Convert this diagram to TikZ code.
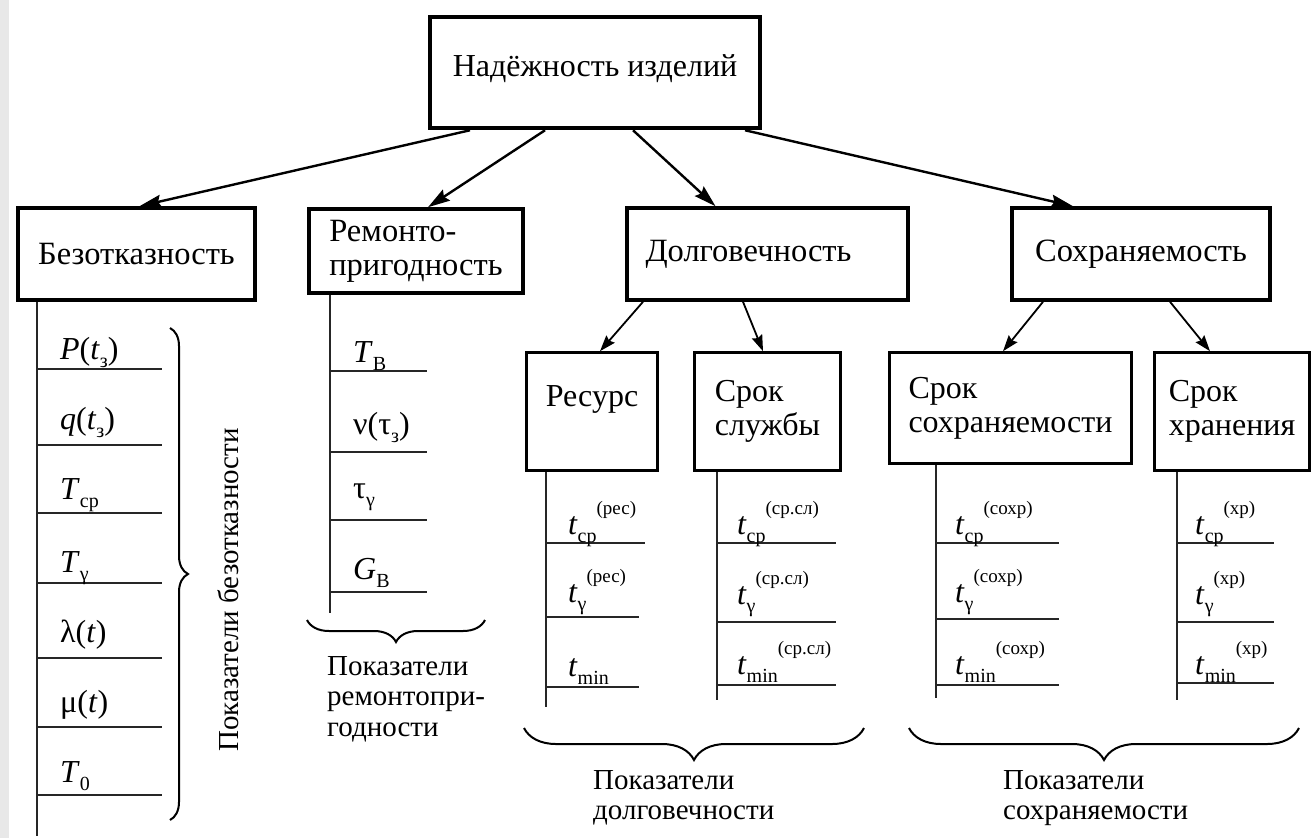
\documentclass[tikz,border=0pt]{standalone}
\usepackage{fontspec}
\setmainfont{Liberation Serif}
\usetikzlibrary{arrows.meta,decorations.pathreplacing}
\newcommand\subidx[1]{\raisebox{-0.26em}{\fontsize{20}{20}\selectfont #1}}
\newcommand\supidx[1]{\raisebox{0.6em}{\fontsize{19}{19}\selectfont #1}}
\tikzset{
  topbox/.style={draw, line width=4.5pt, minimum width=330pt, minimum height=111pt,
    inner sep=0pt, font=\fontsize{32}{35}\selectfont},
  mainbox/.style={draw, line width=3.6pt, minimum height=92pt, inner sep=0pt,
    font=\fontsize{32.5}{34}\selectfont, align=left},
  subbox/.style={draw, line width=2.6pt, inner sep=0pt, font=\fontsize{32}{34}\selectfont, align=left},
  arr/.style={-{Stealth[length=22pt,width=13pt,inset=3pt]}, line width=2.4pt},
  subarr/.style={-{Stealth[length=16pt,width=11pt,inset=2pt]}, line width=1.8pt},
  listline/.style={line width=1.8pt, black!85},
  idx/.style={anchor=base west, inner sep=0pt, font=\fontsize{32}{34}\selectfont},
  bracelab/.style={inner sep=0pt, align=left, font=\fontsize{29}{30.5}\selectfont},
  brc/.style={decorate, decoration={brace, amplitude=#1}, line width=2pt},
}

\begin{document}
\begin{tikzpicture}[x=1pt, y=-1pt]
  \useasboundingbox (0,0) rectangle (1313,838);
  \fill[white] (0,0) rectangle (1313,838);
  \fill[black!9] (0,0) rectangle (9,838);

  % top and first level
  \node[topbox, text depth=14pt] (nad) at (595,72.5) {Надёжность изделий};
  \node[mainbox, minimum width=237pt] (bez) at (136.5,254) {Безотказность};
  \node[mainbox, minimum width=214pt, minimum height=84pt] (rem) at (416,251) {Ремонто-\\пригодность};
  \node[mainbox, minimum width=281pt] (dol) at (767.5,254) {Долговечность\hspace*{38pt}};
  \node[mainbox, minimum width=258pt] (sokh) at (1141,254) {Сохраняемость};

  \draw[arr] ([xshift=-125pt]nad.south) -- ([xshift=3pt]bez.north);
  \draw[arr] ([xshift=-50pt]nad.south) -- ([xshift=12pt]rem.north);
  \draw[arr] ([xshift=38pt]nad.south) -- ([xshift=-52pt]dol.north);
  \draw[arr] ([xshift=150pt]nad.south) -- ([xshift=-68pt]sokh.north);

  % second level
  \node[subbox, minimum width=131pt, minimum height=118pt, text depth=30pt] (res) at (592,411.5) {Ресурс};
  \node[subbox, minimum width=146pt, minimum height=118pt] (ssl) at (767.5,411.5) {Срок\\службы};
  \node[subbox, minimum width=242pt, minimum height=111pt] (ssokh) at (1010.5,408) {Срок\\сохраняемости};
  \node[subbox, minimum width=155pt, minimum height=118pt] (shr) at (1232,411.5) {Срок\\хранения};

  \draw[subarr] ([xshift=-124.5pt]dol.south) -- ([xshift=8pt]res.north);
  \draw[subarr] ([xshift=-24.5pt]dol.south) -- ([xshift=-4.5pt]ssl.north);
  \draw[subarr] ([xshift=-98pt]sokh.south) -- ([xshift=-7.5pt]ssokh.north);
  \draw[subarr] ([xshift=29pt]sokh.south) -- ([xshift=-22pt]shr.north);

  % Безотказность
  \draw[listline] ([xshift=21pt]bez.south west) -- ++(0,534);
  \foreach \y in {369,445,513,583,658,727,795}
    \draw[listline] (37,\y) -- (162,\y);
  \foreach \b/\txt [count=\i] in {359/{\textit{P}(\textit{t}\subidx{з})}, 429/{\textit{q}(\textit{t}\subidx{з})},
      499/{\textit{T}\subidx{ср}}, 572/{\textit{T}\subidx{γ}}, 642/{λ(\textit{t})}, 712/{μ(\textit{t})},
      782/{\textit{T}\subidx{0}}}
    \node[idx] (bz\i) at (60,\b) {\txt};
  \draw[brc=18pt] (170,328) -- (170,820);
  \node[bracelab, rotate=90] (bzlab) at (228,590) {Показатели безотказности};

  % Ремонтопригодность
  \draw[listline] ([xshift=23pt]rem.south west) -- ++(0,318);
  \foreach \y in {371,452,520,592}
    \draw[listline] (330,\y) -- (427,\y);
  \foreach \b/\txt [count=\i] in {362/{\textit{T}\subidx{В}}, 434/{ν(τ\subidx{з})},
      498/{τ\subidx{γ}}, 579/{\textit{G}\subidx{В}}}
    \node[idx] (rm\i) at (353,\b) {\txt};
  \draw[brc=22pt] (485,620) -- (307,620);
  \node[bracelab, anchor=west] (rmlab) at (327,699) {Показатели\\ремонтопри-\\годности};

  % Ресурс и Срок службы
  \draw[listline] ([xshift=21pt]res.south west) -- ++(0,235);
  \foreach \y/\e in {543/645,617/639,687/639}
    \draw[listline] (546,\y) -- (\e,\y);
  \foreach \b/\txt [count=\i] in {534/{\textit{t}\subidx{ср}\supidx{(рес)}}, 602/{\textit{t}\subidx{γ}\supidx{(рес)}},
      676/{\textit{t}\subidx{min}}}
    \node[idx] (rs\i) at (568,\b) {\txt};

  \draw[listline] ([xshift=24pt]ssl.south west) -- ++(0,228);
  \foreach \y in {543,622,685}
    \draw[listline] (717,\y) -- (836,\y);
  \foreach \b/\txt [count=\i] in {534/{\textit{t}\subidx{ср}\supidx{(ср.сл)}}, 604/{\textit{t}\subidx{γ}\supidx{(ср.сл)}},
      674/{\textit{t}\subidx{min}\supidx{(ср.сл)}}}
    \node[idx] (sl\i) at (737,\b) {\txt};
  \draw[brc=32pt] (864,728) -- (524,728);
  \node[bracelab, anchor=west] (dllab) at (593,798) {Показатели\\долговечности};

  % Срок сохраняемости и Срок хранения
  \draw[listline] ([xshift=48pt]ssokh.south west) -- ++(0,233);
  \foreach \y in {543,619,685}
    \draw[listline] (936,\y) -- (1059,\y);
  \foreach \b/\txt [count=\i] in {534/{\textit{t}\subidx{ср}\supidx{(сохр)}}, 602/{\textit{t}\subidx{γ}\supidx{(сохр)}},
      674/{\textit{t}\subidx{min}\supidx{(сохр)}}}
    \node[idx] (so\i) at (955,\b) {\txt};

  \draw[listline] ([xshift=24pt]shr.south west) -- ++(0,228);
  \foreach \y in {543,622,683}
    \draw[listline] (1177,\y) -- (1274,\y);
  \foreach \b/\txt [count=\i] in {534/{\textit{t}\subidx{ср}\supidx{(хр)}}, 604/{\textit{t}\subidx{γ}\supidx{(хр)}},
      674/{\textit{t}\subidx{min}\supidx{(хр)}}}
    \node[idx] (hr\i) at (1195,\b) {\txt};
  \draw[brc=32pt] (1299,728) -- (909,728);
  \node[bracelab, anchor=west] (sklab) at (1003,798) {Показатели\\сохраняемости};
\end{tikzpicture}
\end{document}
